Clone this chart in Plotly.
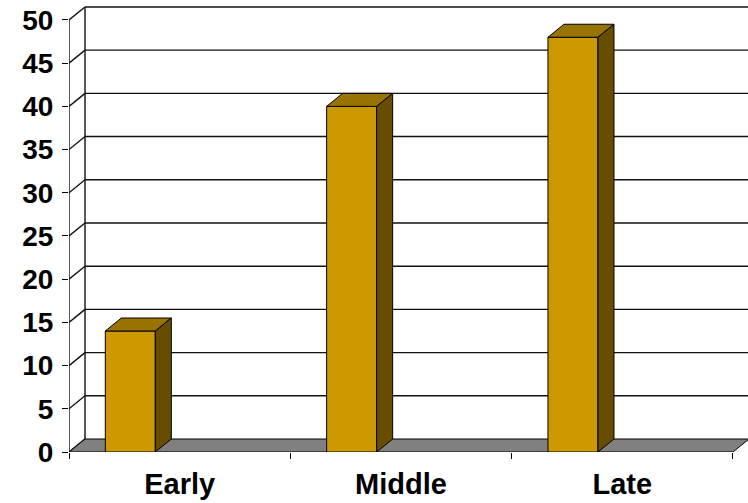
import plotly.graph_objects as go

categories = ["Early", "Middle", "Late"]
values = [14, 40, 48]
y_ticks = list(range(0, 55, 5))

# geometry (in axis units)
BAR_OFFSET = 0.164
BAR_WIDTH = 0.226
DX = 0.0723
DY = 1.505
N = len(categories)
X_MAX = 3.0678
Y_MAX = 52.31

FRONT = "#CC9900"
TOP = "#997300"
SIDE = "#664D00"
FLOOR = "#808080"
YFONT = dict(family="Liberation Sans, Arial, sans-serif", size=28, color="black", weight="bold")
XFONT = dict(family="Liberation Sans, Arial, sans-serif", size=29, color="black", weight="bold")

fig = go.Figure()

# back wall gridlines + left wall
gx, gy = [], []
for v in y_ticks[1:]:
    gx += [DX, N + DX + 0.2, None]
    gy += [v + DY, v + DY, None]
for v in y_ticks:
    gx += [0, DX, None]
    gy += [v, v + DY, None]
gx += [0, 0, None, DX, DX, None]
gy += [0, y_ticks[-1], None, DY, y_ticks[-1] + DY, None]
fig.add_trace(go.Scatter(x=gx, y=gy, mode="lines", line=dict(color="#111111", width=1.4),
                         hoverinfo="skip", xaxis="x", yaxis="y"))

# floor
fig.add_trace(go.Scatter(x=[0, N, N + DX, DX, 0], y=[0, 0, DY, DY, 0], mode="lines",
                         fill="toself", fillcolor=FLOOR, line=dict(color="black", width=1),
                         hoverinfo="skip", xaxis="x", yaxis="y"))

# bars front faces
centers = [i + BAR_OFFSET + BAR_WIDTH / 2 for i in range(N)]
fig.add_trace(go.Bar(x=centers, y=values, width=BAR_WIDTH,
                     marker=dict(color=FRONT, line=dict(color="black", width=1)),
                     hoverinfo="skip", xaxis="x2", yaxis="y2"))

tx, ty, sx, sy = [], [], [], []
for i, v in enumerate(values):
    xl = i + BAR_OFFSET
    xr = xl + BAR_WIDTH
    tx += [xl, xl + DX, xr + DX, xr, xl, None]
    ty += [v, v + DY, v + DY, v, v, None]
    sx += [xr, xr + DX, xr + DX, xr, xr, None]
    sy += [0, DY, v + DY, v, 0, None]
fig.add_trace(go.Scatter(x=tx, y=ty, mode="lines", fill="toself", fillcolor=TOP,
                         line=dict(color="black", width=1), hoverinfo="skip",
                         xaxis="x2", yaxis="y2"))
fig.add_trace(go.Scatter(x=sx, y=sy, mode="lines", fill="toself", fillcolor=SIDE,
                         line=dict(color="black", width=1), hoverinfo="skip",
                         xaxis="x2", yaxis="y2"))

fig.update_layout(
    width=748, height=503,
    margin=dict(l=69, r=0, t=0, b=51, pad=0),
    paper_bgcolor="white", plot_bgcolor="white",
    showlegend=False,
    xaxis=dict(range=[0, X_MAX], tickvals=list(range(N + 1)), ticktext=[""] * (N + 1),
               ticks="outside", ticklen=6, tickcolor="black", tickwidth=1,
               showgrid=False, zeroline=False, showline=False, fixedrange=True),
    yaxis=dict(range=[0, Y_MAX], tickvals=y_ticks, ticks="outside", ticklen=6,
               tickcolor="black", tickwidth=1, tickfont=YFONT, ticklabelstandoff=3,
               showgrid=False, zeroline=False, showline=False, fixedrange=True),
    xaxis2=dict(range=[0, X_MAX], overlaying="x", anchor="y2", side="bottom",
                tickvals=[i + 0.5 for i in range(N)], ticktext=categories,
                ticks="", tickfont=XFONT, ticklabelstandoff=12,
                showgrid=False, zeroline=False, showline=False, fixedrange=True),
    yaxis2=dict(range=[0, Y_MAX], overlaying="y", anchor="x2", showticklabels=False,
                ticks="", showgrid=False, zeroline=False, showline=False, fixedrange=True),
)

fig.write_html("out.html")
